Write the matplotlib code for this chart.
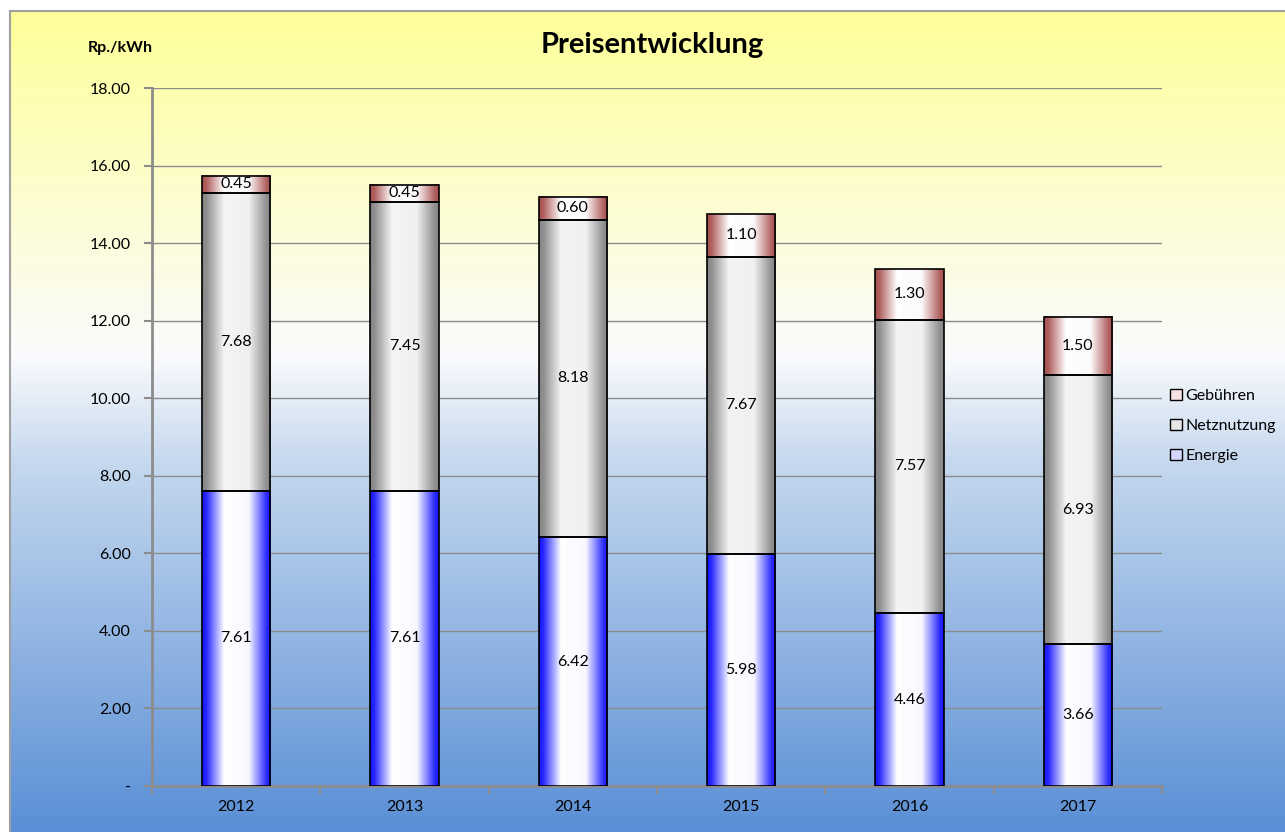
import numpy as np
import matplotlib.pyplot as plt
from matplotlib.patches import Rectangle, Patch
from matplotlib.colors import to_rgb

plt.rcParams['font.family'] = ['Lato', 'DejaVu Sans']

# data
years = ['2012', '2013', '2014', '2015', '2016', '2017']
energie = [7.61, 7.61, 6.42, 5.98, 4.46, 3.66]
netznutzung = [7.68, 7.45, 8.18, 7.67, 7.57, 6.93]
gebuehren = [0.45, 0.45, 0.60, 1.10, 1.30, 1.50]
yticks = [0, 2, 4, 6, 8, 10, 12, 14, 16, 18]

W, H = 1285, 832
fig = plt.figure(figsize=(W / 100, H / 100), dpi=100)

# figure background: yellow -> white -> blue
bg = fig.add_axes([0, 0, 1, 1], zorder=-10)
bg.set_axis_off()
pos = np.array([0.0, 0.45, 0.58, 1.0])  # from bottom
cols = np.array([to_rgb('#5a8fd6'), to_rgb('#c5d8ee'), to_rgb('#fafbfd'), to_rgb('#ffff99')])
yy = np.linspace(0, 1, 400)
grad = np.stack([np.interp(yy, pos, cols[:, k]) for k in range(3)], axis=-1)
grad = grad[:, None, :]
x0, y1 = 10 / W, 1 - 11 / H
bg.imshow(grad, extent=[x0, 1, 0, y1], origin='lower', aspect='auto')
bg.add_patch(Rectangle((x0, -0.01), 1.0, y1 + 0.01, fill=False, edgecolor='#a0a0a0', lw=1.5))
bg.set_xlim(0, 1)
bg.set_ylim(0, 1)

ax = fig.add_axes([152 / W, 46 / H, 1010 / W, 698 / H])
ax.patch.set_alpha(0)

x = np.arange(len(years))
width = 0.405


def bar_gradient(edge, center):
    t = np.linspace(0, 1, 200)
    m = np.interp(t, [0, 0.06, 0.32, 0.68, 0.94, 1], [1, 0.92, 0, 0.03, 0.9, 1])
    e = np.array(to_rgb(edge))
    c = np.array(to_rgb(center))
    return (c[None, :] * (1 - m[:, None]) + e[None, :] * m[:, None])[None, :, :]


series = [
    (energie, '#1414ff', '#ffffff', 'Energie'),
    (netznutzung, '#858585', '#f4f4f4', 'Netznutzung'),
    (gebuehren, '#a8504f', '#ffffff', 'Gebühren'),
]

bottom = np.zeros(len(years))
for vals, edge, center, name in series:
    vals = np.array(vals)
    bars = ax.bar(x, vals, width, bottom=bottom, facecolor='none', edgecolor='black', lw=1.2, zorder=4)
    g = bar_gradient(edge, center)
    for b in bars:
        ax.imshow(g, extent=[b.get_x(), b.get_x() + b.get_width(), b.get_y(), b.get_y() + b.get_height()],
                  aspect='auto', zorder=3)
    for xi, bi, v in zip(x, bottom, vals):
        ax.text(xi, bi + v / 2, f'{v:.2f}', ha='center', va='center', fontsize=11.5, color='black', zorder=5)
    bottom = bottom + vals

ax.set_xlim(-0.5, len(years) - 0.5)
ax.set_ylim(0, 18)
ax.set_yticks(yticks)
ax.set_yticklabels(['-'] + [f'{v:.2f}' for v in yticks[1:]], fontsize=11.5)
ax.yaxis.grid(True, color='#8c8c8c', lw=1)
ax.set_axisbelow(True)

ax.set_xticks(np.arange(-0.5, len(years)), minor=False)
ax.set_xticklabels([])
ax.set_xticks(x, minor=True)
ax.set_xticklabels(years, minor=True, fontsize=11.5)
ax.tick_params(axis='x', which='major', length=6, color='#8c8c8c', width=1.5)
ax.tick_params(axis='x', which='minor', length=0, pad=10)
ax.tick_params(axis='y', length=6, color='#8c8c8c', width=1.5, pad=9)

for s in ['top', 'right']:
    ax.spines[s].set_visible(False)
for s in ['left', 'bottom']:
    ax.spines[s].set_color('#8c8c8c')
    ax.spines[s].set_linewidth(2)

fig.text(652 / W, 1 - 45 / H, 'Preisentwicklung', ha='center', va='center', fontsize=21, fontweight='bold')
fig.text(120 / W, 1 - 48 / H, 'Rp./kWh', ha='center', va='center', fontsize=11.5, fontweight='bold')

handles = [
    Patch(facecolor='#f6e2e2', edgecolor='black', label='Gebühren'),
    Patch(facecolor='#e6e6e6', edgecolor='black', label='Netznutzung'),
    Patch(facecolor='#d6d6ff', edgecolor='black', label='Energie'),
]
fig.legend(handles=handles, loc='center left', bbox_to_anchor=(1164 / W, 1 - 426 / H), frameon=False,
           fontsize=11.5, handlelength=0.7, handleheight=0.7, handletextpad=0.25, labelspacing=0.98,
           borderaxespad=0)

fig.savefig('out.png', dpi=100)
